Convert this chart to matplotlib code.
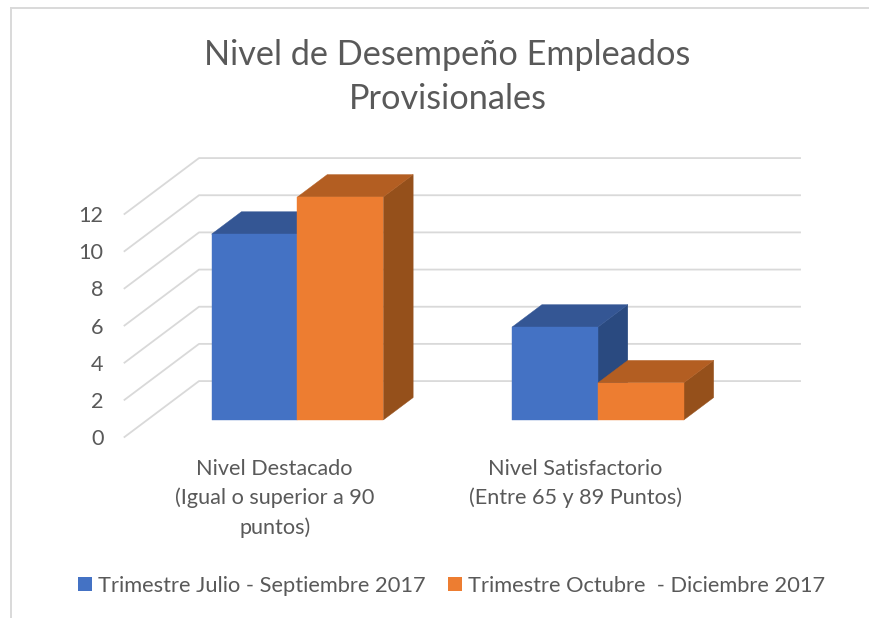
#!/usr/bin/env python3
"""Nivel de desempeno chart, drawn as a sheared 3D column chart."""

import matplotlib

matplotlib.use("Agg")

import matplotlib.pyplot as plt
from matplotlib.lines import Line2D
from matplotlib.patches import Patch, Polygon

TITLE = "Nivel de Desempeño Empleados\nProvisionales"
CATEGORIES = [
    "Nivel Destacado\n(Igual o superior a 90\npuntos)",
    "Nivel Satisfactorio\n(Entre 65 y 89 Puntos)",
]
SERIES_NAMES = [
    "Trimestre Julio - Septiembre 2017",
    "Trimestre Octubre  - Diciembre 2017",
]
JUL_SEP = [10, 5]
OCT_DIC = [12, 2]
Y_TICKS = [0, 2, 4, 6, 8, 10, 12]

WIDTH, HEIGHT = 869, 618
TEXT = "#595959"
GRID = "#D9D9D9"
# front, top, side
BLUE = ("#4472C4", "#345694", "#2A4A80")
ORANGE = ("#ED7D31", "#B35E22", "#95501B")

# shear of one full floor depth, in data units
DEPTH_X = 0.248
DEPTH_Y = 3.01
BAR_W = 1 / 3.5
BAR_D0, BAR_D1 = 0.305, 0.705


def project(x, y, d):
    return x + d * DEPTH_X, y + d * DEPTH_Y


def draw_bar(ax, x, value, colors):
    d0, d1 = BAR_D0, BAR_D1
    x1 = x + BAR_W
    front = [project(x, 0, d0), project(x1, 0, d0), project(x1, value, d0), project(x, value, d0)]
    top = [project(x, value, d0), project(x1, value, d0), project(x1, value, d1), project(x, value, d1)]
    side = [project(x1, 0, d0), project(x1, 0, d1), project(x1, value, d1), project(x1, value, d0)]
    for pts, color in ((side, colors[2]), (top, colors[1]), (front, colors[0])):
        ax.add_patch(Polygon(pts, closed=True, facecolor=color, edgecolor=color,
                             linewidth=0.3, clip_on=False, zorder=3))


def main():
    plt.rcParams["font.family"] = ["Lato", "DejaVu Sans"]
    fig = plt.figure(figsize=(WIDTH / 100, HEIGHT / 100), dpi=100)
    fig.patch.set_facecolor("white")

    # front edge of the floor runs 124.5..725.5 px, value 0..12 is 437..214 px
    ax = fig.add_axes([124.5 / WIDTH, 1 - 437 / HEIGHT, 601 / WIDTH, 223 / HEIGHT])
    ax.set_xlim(0, 2)
    ax.set_ylim(0, 12)
    ax.patch.set_visible(False)
    for spine in ax.spines.values():
        spine.set_visible(False)

    ax.set_yticks(Y_TICKS)
    ax.set_xticks([0.5, 1.5])
    ax.set_xticklabels(CATEGORIES, fontsize=15.6, color=TEXT, linespacing=1.52)
    ax.tick_params(axis="y", length=0, pad=15, labelsize=15.6, labelcolor=TEXT)
    ax.tick_params(axis="x", length=0, pad=16)

    for tick in Y_TICKS:
        xs, ys = zip(project(0, tick, 0), project(0, tick, 1), project(2, tick, 1))
        ax.plot(xs, ys, color=GRID, linewidth=1.3, clip_on=False, zorder=1)

    for i in range(len(CATEGORIES)):
        center = i + 0.5
        draw_bar(ax, center - BAR_W, JUL_SEP[i], BLUE)
        draw_bar(ax, center, OCT_DIC[i], ORANGE)

    fig.text(447.5 / WIDTH, 1 - 77 / HEIGHT, TITLE, ha="center", va="center",
             fontsize=24.7, color=TEXT, linespacing=1.45)

    handles = [Patch(facecolor=BLUE[0]), Patch(facecolor=ORANGE[0])]
    fig.legend(handles, SERIES_NAMES, loc="center", ncol=2, frameon=False,
               bbox_to_anchor=(451.5 / WIDTH, 1 - 586 / HEIGHT), fontsize=15.75,
               labelcolor=TEXT, handlelength=0.64, handleheight=0.62,
               handletextpad=0.25, columnspacing=1.05)

    # chart frame, cropped at the right and bottom of the picture
    fig.add_artist(Line2D([11 / WIDTH, 11 / WIDTH], [0, 1 - 8 / HEIGHT], color=GRID, linewidth=1.4))
    fig.add_artist(Line2D([11 / WIDTH, 1], [1 - 8 / HEIGHT, 1 - 8 / HEIGHT], color=GRID, linewidth=1.4))

    fig.savefig("out.png", dpi=100)
    plt.close(fig)


if __name__ == "__main__":
    main()
